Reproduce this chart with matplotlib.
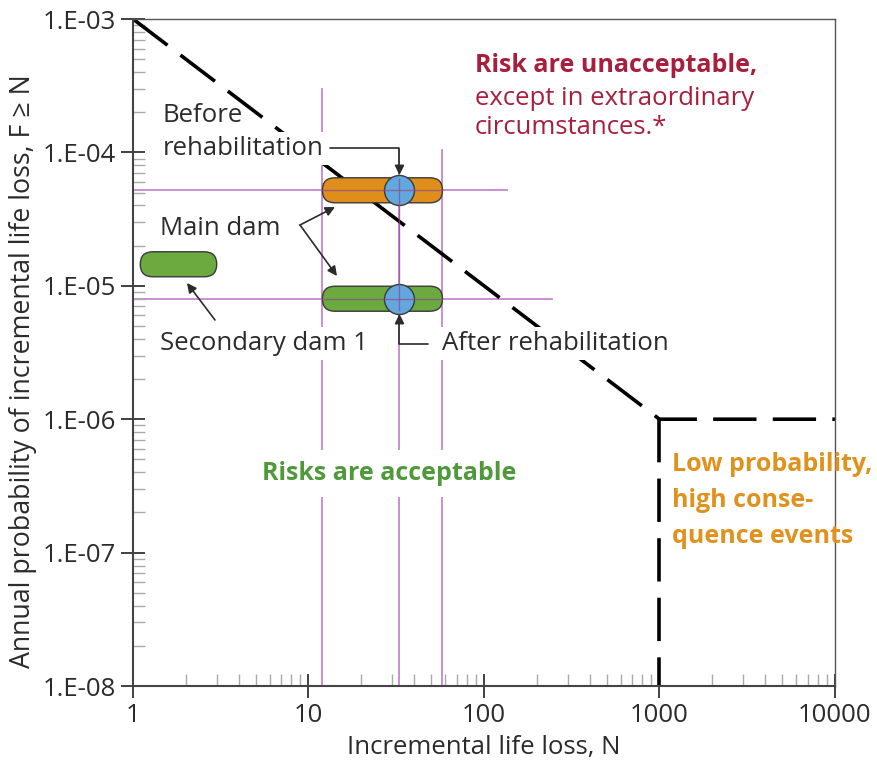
import numpy as np
import matplotlib.pyplot as plt
from matplotlib.patches import FancyBboxPatch
from matplotlib.transforms import IdentityTransform
from matplotlib.ticker import FixedLocator, FixedFormatter, LogLocator, NullFormatter

plt.rcParams['font.family'] = ['Open Sans', 'DejaVu Sans']

# ---------------------------------------------------------------
# Datos
# ---------------------------------------------------------------
# limite de tolerabilidad (linea discontinua)
limit_N = [1, 1000, 10000]
limit_F = [1e-3, 1e-6, 1e-6]
lowprob_N = [1000, 1000]
lowprob_F = [1e-6, 1e-8]

# presa principal (antes / despues) y presa secundaria
main_N = [12, 58]
main_N_mid = 33
F_before = 5.2e-5
F_after = 8.0e-6
sec_N = [1.1, 3.0]
sec_F = 1.45e-5

# lineas guia moradas
vline_N = [12, 33, 58]
vline_top = [3.0e-4, 1.05e-4, 1.05e-4]
hline_F = [F_before, F_after]
hline_end = [135, 245]

xticks = [1, 10, 100, 1000, 10000]
xlabels = ["1", "10", "100", "1000", "10000"]
yticks = [1e-8, 1e-7, 1e-6, 1e-5, 1e-4, 1e-3]
ylabels = ["1.E-08", "1.E-07", "1.E-06", "1.E-05", "1.E-04", "1.E-03"]

# Colores
C_RED = "#A81F3C"
C_GREEN_TXT = "#4E9A3A"
C_ORANGE_TXT = "#E0921F"
C_ORANGE = "#DF8D1B"
C_GREEN = "#6AAA3E"
C_BLUE = "#62A8DE"
C_EDGE = "#3A3A3A"
C_PURPLE = "#C686CE"
C_TXT = "#2B2B2B"

W, H = 878, 773
fig = plt.figure(figsize=(W / 100, H / 100), dpi=100)
L, R, T, B = 133, 835, 19, 686
ax = fig.add_axes([L / W, 1 - B / H, (R - L) / W, (B - T) / H])
ax.set_xscale("log")
ax.set_yscale("log")
ax.set_xlim(1, 1e4)
ax.set_ylim(1e-8, 1e-3)


def px(x, y):
    # posicion en pixeles de la imagen -> fraccion de ejes
    return ((x - L) / (R - L), (B - y) / (B - T))


# ---------------------------------------------------------------
# Lineas guia
# ---------------------------------------------------------------
for n, top in zip(vline_N, vline_top):
    ax.plot([n, n], [1e-8, top], color=C_PURPLE, lw=1.3, zorder=1)
for f, end in zip(hline_F, hline_end):
    ax.plot([1, end], [f, f], color=C_PURPLE, lw=1.3, zorder=1)

# limite
ax.plot(limit_N, limit_F, color="black", lw=2.6, dashes=(12, 4.5), zorder=2)
ax.plot(lowprob_N, lowprob_F, color="black", lw=2.6, dashes=(12, 4.5), zorder=2)


# ---------------------------------------------------------------
# Barras redondeadas (en pixeles)
# ---------------------------------------------------------------
def capsule(n0, n1, f, color, h=25):
    (x0, yc), (x1, _) = ax.transData.transform([(n0, f), (n1, f)])
    p = FancyBboxPatch((x0, yc - h / 2), x1 - x0, h,
                       boxstyle=f"round,pad=0,rounding_size={h / 2}",
                       transform=IdentityTransform(), fc=color, ec=C_EDGE,
                       lw=1.0, zorder=4)
    ax.add_patch(p)


capsule(main_N[0], main_N[1], F_before, C_ORANGE)
capsule(main_N[0], main_N[1], F_after, C_GREEN)
capsule(sec_N[0], sec_N[1], sec_F, C_GREEN)

ax.plot([main_N_mid, main_N_mid], [F_before, F_after], ls="none", marker="o",
        ms=21.6, mfc=C_BLUE, mec=C_EDGE, mew=1.0, zorder=5)

# cruces moradas sobre las barras
for f in hline_F:
    ax.plot(main_N, [f, f], color="#8E4A8E", lw=1.0, alpha=0.7, zorder=6)
ax.plot([main_N_mid, main_N_mid], [F_after * 0.82, F_before * 1.22],
        color="#8E4A8E", lw=1.0, alpha=0.7, zorder=6)

# ---------------------------------------------------------------
# Textos
# ---------------------------------------------------------------
fs = 18.5
fsb = 18
wbox = dict(boxstyle="square,pad=0.15", fc="white", ec="none")
ax.text(*px(163, 122), "Before", transform=ax.transAxes, fontsize=fs,
        color=C_TXT, zorder=3)
ax.text(*px(163, 155), "rehabilitation", transform=ax.transAxes, fontsize=fs,
        color=C_TXT, bbox=wbox, zorder=3)
ax.text(*px(160, 235), "Main dam", transform=ax.transAxes, fontsize=fs,
        color=C_TXT, zorder=3)
ax.text(*px(160, 350), "Secondary dam 1", transform=ax.transAxes, fontsize=fs,
        color=C_TXT, bbox=wbox, zorder=3)
ax.text(*px(442, 350), "After rehabilitation", transform=ax.transAxes,
        fontsize=fs, color=C_TXT, bbox=wbox, zorder=3)

ax.text(*px(475, 72), "Risk are unacceptable,", transform=ax.transAxes,
        fontsize=fsb, color=C_RED, fontweight="bold", zorder=3)
ax.text(*px(475, 105), "except in extraordinary", transform=ax.transAxes,
        fontsize=fs, color=C_RED, zorder=3)
ax.text(*px(475, 134), "circumstances.*", transform=ax.transAxes,
        fontsize=fs, color=C_RED, zorder=3)

ax.text(*px(262, 480), "Risks are acceptable", transform=ax.transAxes,
        fontsize=fsb, color=C_GREEN_TXT, fontweight="bold",
        bbox=dict(boxstyle="square,pad=0.45", fc="white", ec="none"), zorder=3)

for yb, line in zip([471, 507, 543],
                    ["Low probability,", "high conse-", "quence events"]):
    ax.text(*px(672, yb), line, transform=ax.transAxes, fontsize=fsb,
            color=C_ORANGE_TXT, fontweight="bold", zorder=3)

# ---------------------------------------------------------------
# Flechas
# ---------------------------------------------------------------
arr = dict(arrowstyle="-|>", color=C_TXT, lw=1.2, mutation_scale=14,
           shrinkA=0, shrinkB=0)
ax.annotate("", xy=(main_N_mid, F_before), xycoords="data",
            xytext=px(330, 148), textcoords="axes fraction",
            arrowprops=dict(arr, shrinkB=11,
                            connectionstyle="angle,angleA=0,angleB=90,rad=0"),
            zorder=7)
ax.annotate("", xy=(main_N_mid, F_after), xycoords="data",
            xytext=px(428, 344), textcoords="axes fraction",
            arrowprops=dict(arr, shrinkB=11,
                            connectionstyle="angle,angleA=0,angleB=90,rad=0"),
            zorder=7)
for tgt in [(335, 207), (337, 276)]:
    ax.annotate("", xy=px(*tgt), xycoords="axes fraction",
                xytext=px(300, 225), textcoords="axes fraction",
                arrowprops=arr, zorder=7)
ax.annotate("", xy=px(187, 283), xycoords="axes fraction",
            xytext=px(215, 320), textcoords="axes fraction",
            arrowprops=arr, zorder=7)

# ---------------------------------------------------------------
# Ejes
# ---------------------------------------------------------------
ax.xaxis.set_major_locator(FixedLocator(xticks))
ax.xaxis.set_major_formatter(FixedFormatter(xlabels))
ax.yaxis.set_major_locator(FixedLocator(yticks))
ax.yaxis.set_major_formatter(FixedFormatter(ylabels))
ax.xaxis.set_minor_locator(LogLocator(base=10, subs=np.arange(2, 10)))
ax.yaxis.set_minor_locator(LogLocator(base=10, subs=np.arange(2, 10)))
ax.xaxis.set_minor_formatter(NullFormatter())
ax.yaxis.set_minor_formatter(NullFormatter())

ax.tick_params(which="major", direction="inout", length=17, width=1.3,
               color="#333333", labelsize=18.5, labelcolor=C_TXT, pad=4)
ax.tick_params(which="minor", direction="in", length=8.5, width=1.0,
               color="#AAAAAA")
for s in ["left", "bottom"]:
    ax.spines[s].set_color("#444444")
    ax.spines[s].set_linewidth(1.5)
for s in ["top", "right"]:
    ax.spines[s].set_color("#555555")
    ax.spines[s].set_linewidth(1.0)

ax.set_xlabel("Incremental life loss, N", fontsize=18.5, color=C_TXT, labelpad=5)
ax.set_ylabel("Annual probability of incremental life loss, F ≥ N",
              fontsize=19.3, color=C_TXT)
ax.yaxis.set_label_coords(-0.137, 0.472)

fig.savefig("out.png", dpi=100)
